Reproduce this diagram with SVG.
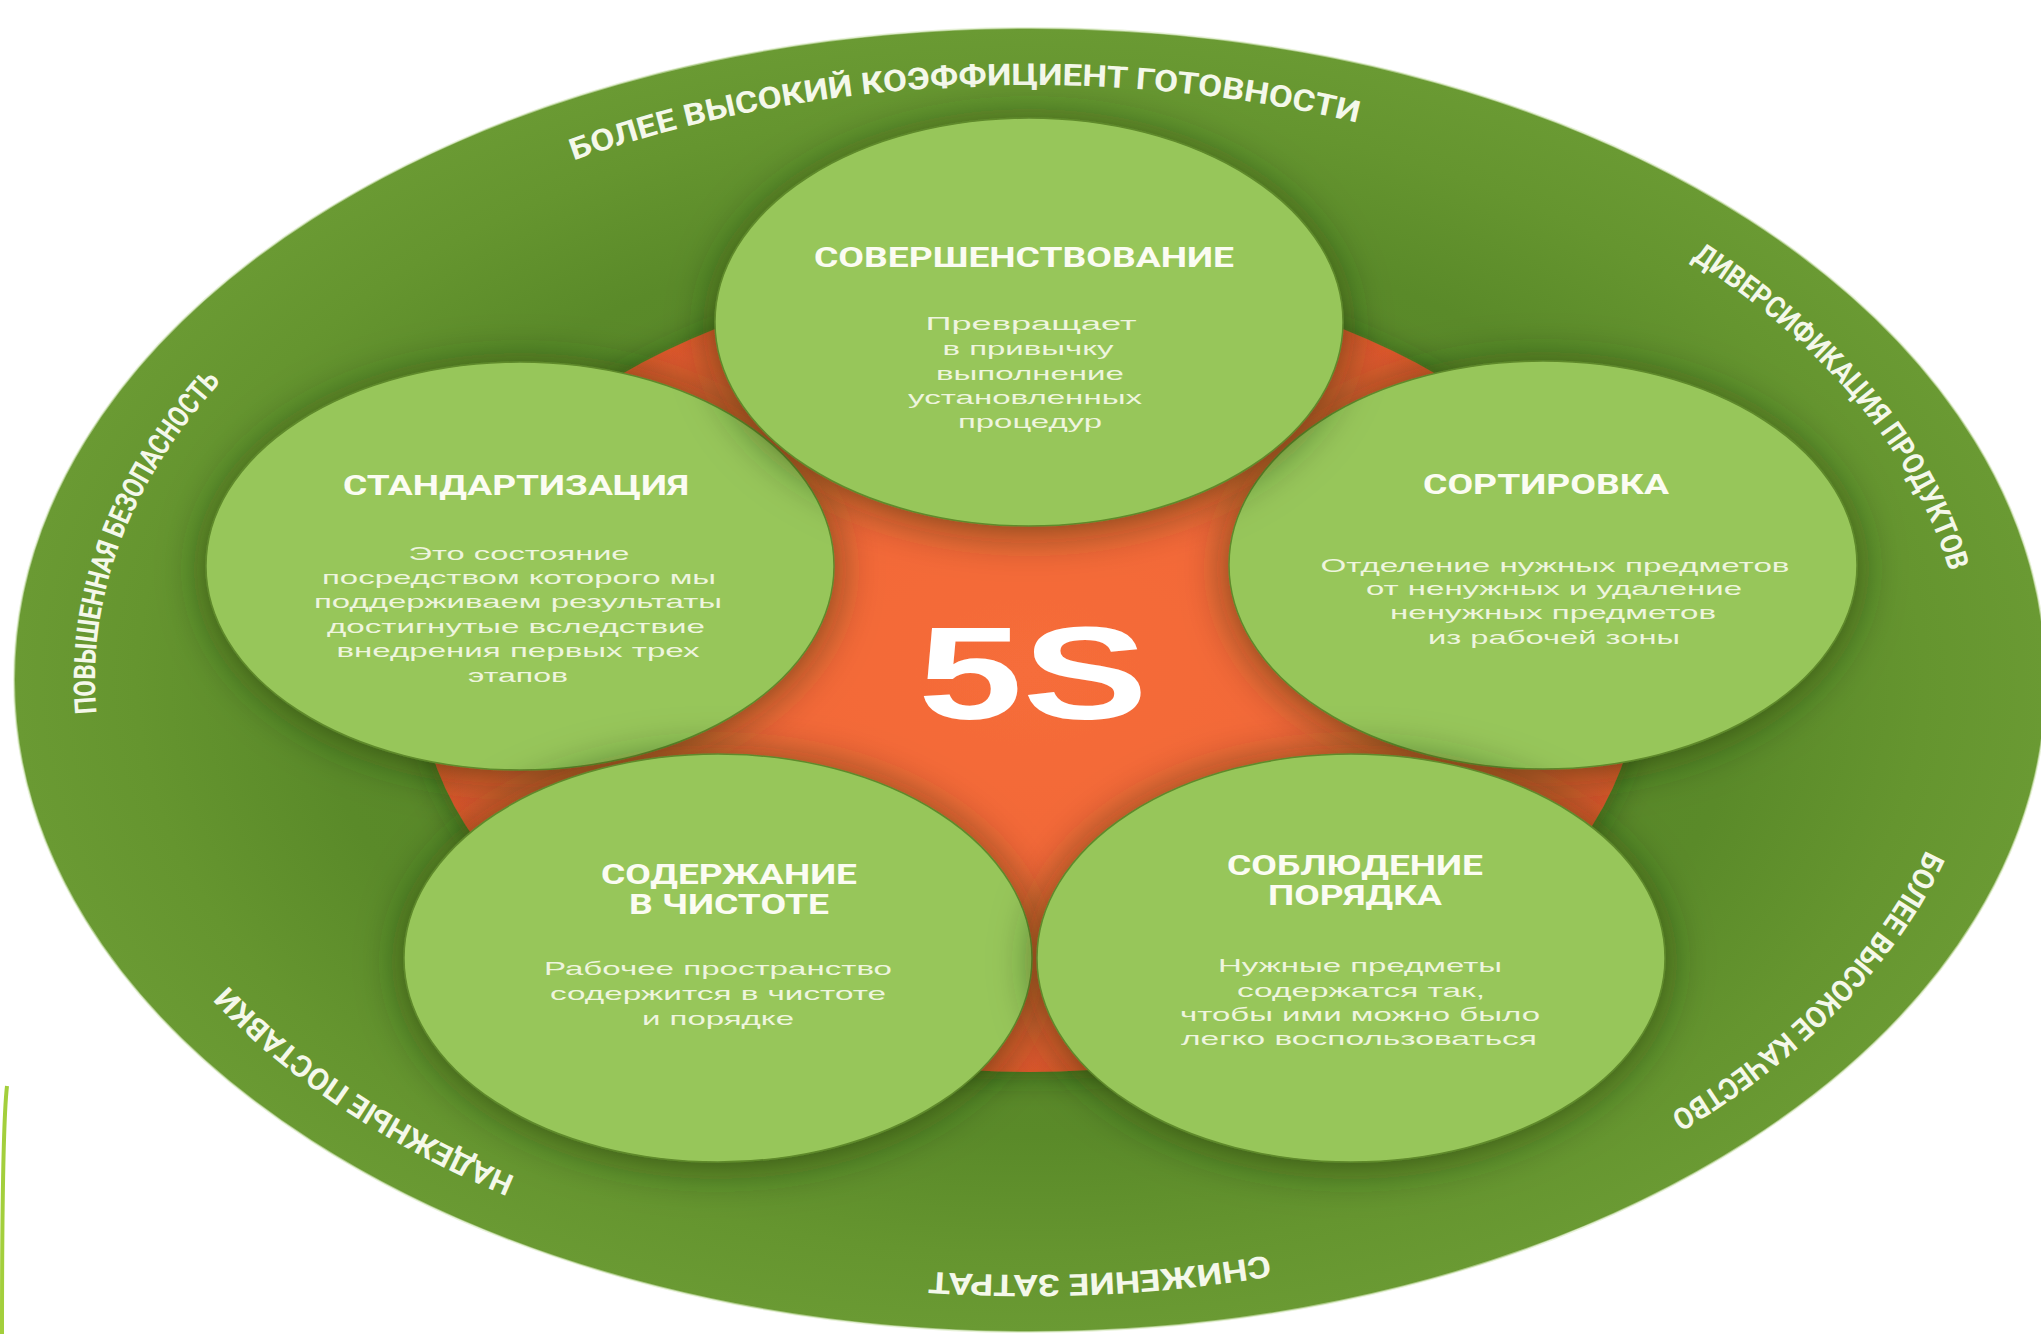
<svg xmlns="http://www.w3.org/2000/svg" xmlns:xlink="http://www.w3.org/1999/xlink" width="2041" height="1334" viewBox="0 0 2041 1334">
<defs>
<style>
.ring{fill:#f4f8ea;font-family:Roboto,"Liberation Sans",sans-serif;font-weight:700;font-size:30px;}
.title{fill:#fbfcf2;font-family:Roboto,"Liberation Sans",sans-serif;font-weight:700;font-size:28px;text-anchor:middle;}
.body{fill:#eef5de;font-family:"Liberation Sans",Arial,sans-serif;font-size:19px;text-anchor:middle;}
.node{fill:#97c65a;stroke:#5f8a2c;stroke-width:1.5;filter:url(#shadow);}
.big{fill:#ffffff;font-family:"Liberation Sans",Arial,sans-serif;font-weight:700;font-size:131px;text-anchor:middle;}
</style>
<radialGradient id="gRing" cx="50%" cy="50%" r="50%">
<stop offset="0" stop-color="#4f7e24"/>
<stop offset="0.7" stop-color="#5a8a29"/>
<stop offset="0.88" stop-color="#65952f"/>
<stop offset="1" stop-color="#6a9a33"/>
</radialGradient>
<radialGradient id="gOrange" cx="50%" cy="50%" r="50%">
<stop offset="0" stop-color="#f66d3a"/>
<stop offset="0.75" stop-color="#f06535"/>
<stop offset="1" stop-color="#dc582c"/>
</radialGradient>
<filter id="shadow" x="-30%" y="-30%" width="160%" height="160%">
<feGaussianBlur in="SourceAlpha" stdDeviation="22"/>
<feOffset dx="0" dy="4" result="b"/>
<feFlood flood-color="#1c3006" flood-opacity="0.6"/>
<feComposite in2="b" operator="in"/>
<feMerge><feMergeNode/><feMergeNode in="SourceGraphic"/></feMerge>
</filter>
<filter id="shadowSoft" x="-20%" y="-20%" width="140%" height="140%">
<feGaussianBlur in="SourceAlpha" stdDeviation="16"/>
<feOffset dx="0" dy="3" result="b"/>
<feFlood flood-color="#1c3006" flood-opacity="0.45"/>
<feComposite in2="b" operator="in"/>
<feMerge><feMergeNode/><feMergeNode in="SourceGraphic"/></feMerge>
</filter>
<path id="pBL" d="M 515.3 1176.7 A 935 595 0 0 1 227.7 985.5"/>
<path id="pL" d="M 96.5 713.2 A 935 595 0 0 1 221 381.6"/>
<path id="pT" d="M 573.8 160.6 A 935 595 0 0 1 1357.4 122.7"/>
<path id="pRT" d="M 1691.1 259.3 A 935 595 0 0 1 1949.4 571.6"/>
<path id="pRB" d="M 1926 850 A 935 595 0 0 1 1670 1113.8"/>
<path id="pB" d="M 1268.8 1255.2 A 935 595 0 0 1 929 1271.5"/>
</defs>

<g id="background">
<ellipse cx="1030" cy="680" rx="1016" ry="652" fill="url(#gRing)" stroke="#d6e8bd" stroke-width="2" stroke-opacity="0.6"/>
<ellipse cx="1029" cy="672" rx="610" ry="400" fill="url(#gOrange)" filter="url(#shadowSoft)"/>
<path d="M 7 1086 Q 2 1130 2 1334" fill="none" stroke="#a3cf3c" stroke-width="4"/>
</g>

<g id="ring-labels">
<text class="ring" text-anchor="middle"><textPath href="#pBL" xlink:href="#pBL" startOffset="50%" textLength="348" lengthAdjust="spacingAndGlyphs">НАДЕЖНЫЕ ПОСТАВКИ</textPath></text>
<text class="ring" text-anchor="middle"><textPath href="#pL" xlink:href="#pL" startOffset="50%" textLength="365" lengthAdjust="spacingAndGlyphs">ПОВЫШЕННАЯ БЕЗОПАСНОСТЬ</textPath></text>
<text class="ring" text-anchor="middle"><textPath href="#pT" xlink:href="#pT" startOffset="50%" textLength="795" lengthAdjust="spacingAndGlyphs">БОЛЕЕ ВЫСОКИЙ КОЭФФИЦИЕНТ ГОТОВНОСТИ</textPath></text>
<text class="ring" text-anchor="middle"><textPath href="#pRT" xlink:href="#pRT" startOffset="50%" textLength="414" lengthAdjust="spacingAndGlyphs">ДИВЕРСИФИКАЦИЯ ПРОДУКТОВ</textPath></text>
<text class="ring" text-anchor="middle"><textPath href="#pRB" xlink:href="#pRB" startOffset="50%" textLength="373" lengthAdjust="spacingAndGlyphs">БОЛЕЕ ВЫСОКОЕ КАЧЕСТВО</textPath></text>
<text class="ring" text-anchor="middle"><textPath href="#pB" xlink:href="#pB" startOffset="50%" textLength="341" lengthAdjust="spacingAndGlyphs">СНИЖЕНИЕ ЗАТРАТ</textPath></text>
</g>

<g id="connectors"></g>

<g id="node-standardization">
<ellipse class="node" cx="520" cy="566" rx="314" ry="204"/>
<text class="title" x="516" y="495" textLength="346" lengthAdjust="spacingAndGlyphs">СТАНДАРТИЗАЦИЯ</text>
<text class="body" x="519" y="560" textLength="221" lengthAdjust="spacingAndGlyphs">Это состояние</text>
<text class="body" x="519" y="584" textLength="394" lengthAdjust="spacingAndGlyphs">посредством которого мы</text>
<text class="body" x="518" y="608" textLength="408" lengthAdjust="spacingAndGlyphs">поддерживаем результаты</text>
<text class="body" x="516" y="633" textLength="378" lengthAdjust="spacingAndGlyphs">достигнутые вследствие</text>
<text class="body" x="518" y="657" textLength="363" lengthAdjust="spacingAndGlyphs">внедрения первых трех</text>
<text class="body" x="518" y="682" textLength="100" lengthAdjust="spacingAndGlyphs">этапов</text>
</g>

<g id="node-sorting">
<ellipse class="node" cx="1543" cy="565" rx="314" ry="204"/>
<text class="title" x="1546" y="494" textLength="246" lengthAdjust="spacingAndGlyphs">СОРТИРОВКА</text>
<text class="body" x="1555" y="572" textLength="469" lengthAdjust="spacingAndGlyphs">Отделение нужных предметов</text>
<text class="body" x="1554" y="595" textLength="376" lengthAdjust="spacingAndGlyphs">от ненужных и удаление</text>
<text class="body" x="1553" y="619" textLength="326" lengthAdjust="spacingAndGlyphs">ненужных предметов</text>
<text class="body" x="1554" y="644" textLength="252" lengthAdjust="spacingAndGlyphs">из рабочей зоны</text>
</g>

<g id="node-cleanliness">
<ellipse class="node" cx="718" cy="958" rx="314" ry="204"/>
<text class="title" x="729" y="884" textLength="256" lengthAdjust="spacingAndGlyphs">СОДЕРЖАНИЕ</text>
<text class="title" x="729" y="914" textLength="200" lengthAdjust="spacingAndGlyphs">В ЧИСТОТЕ</text>
<text class="body" x="718" y="975" textLength="348" lengthAdjust="spacingAndGlyphs">Рабочее пространство</text>
<text class="body" x="718" y="1000" textLength="336" lengthAdjust="spacingAndGlyphs">содержится в чистоте</text>
<text class="body" x="718" y="1025" textLength="152" lengthAdjust="spacingAndGlyphs">и порядке</text>
</g>

<g id="node-order">
<ellipse class="node" cx="1351" cy="958" rx="314" ry="204"/>
<text class="title" x="1355" y="875" textLength="256" lengthAdjust="spacingAndGlyphs">СОБЛЮДЕНИЕ</text>
<text class="title" x="1355" y="905" textLength="174" lengthAdjust="spacingAndGlyphs">ПОРЯДКА</text>
<text class="body" x="1360" y="972" textLength="284" lengthAdjust="spacingAndGlyphs">Нужные предметы</text>
<text class="body" x="1361" y="997" textLength="248" lengthAdjust="spacingAndGlyphs">содержатся так,</text>
<text class="body" x="1360" y="1021" textLength="360" lengthAdjust="spacingAndGlyphs">чтобы ими можно было</text>
<text class="body" x="1359" y="1045" textLength="356" lengthAdjust="spacingAndGlyphs">легко воспользоваться</text>
</g>

<g id="node-improvement">
<ellipse class="node" cx="1029" cy="322" rx="314" ry="204"/>
<text class="title" x="1024" y="267" textLength="420" lengthAdjust="spacingAndGlyphs">СОВЕРШЕНСТВОВАНИЕ</text>
<text class="body" x="1031" y="330" textLength="211" lengthAdjust="spacingAndGlyphs">Превращает</text>
<text class="body" x="1028" y="355" textLength="171" lengthAdjust="spacingAndGlyphs">в привычку</text>
<text class="body" x="1030" y="380" textLength="188" lengthAdjust="spacingAndGlyphs">выполнение</text>
<text class="body" x="1025" y="404" textLength="234" lengthAdjust="spacingAndGlyphs">установленных</text>
<text class="body" x="1030" y="428" textLength="144" lengthAdjust="spacingAndGlyphs">процедур</text>
</g>

<g id="center-5s">
<text class="big" x="1033" y="719" textLength="230" lengthAdjust="spacingAndGlyphs">5S</text>
</g>
</svg>
